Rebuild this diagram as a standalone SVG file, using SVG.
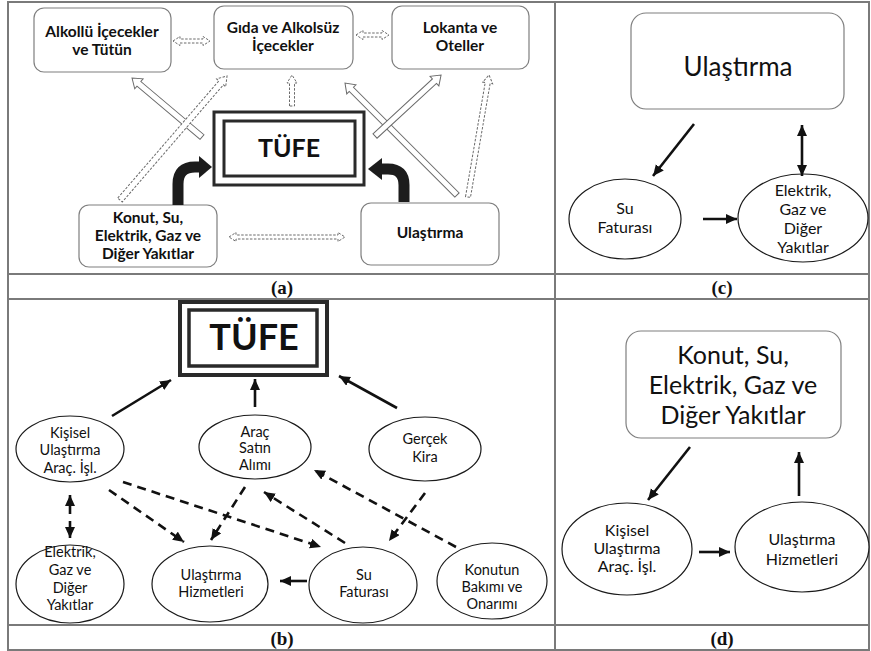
<svg xmlns="http://www.w3.org/2000/svg" width="871" height="651" viewBox="0 0 871 651">
<defs>
<style>
.grid{fill:none;stroke:#7a7a7a;stroke-width:2}
.rbox{fill:#fff;stroke:#7f7f7f;stroke-width:1.2}
.ell{fill:#fff;stroke:#1a1a1a;stroke-width:1.2}
.t{font-family:Lato,"Open Sans","DejaVu Sans",sans-serif;fill:#111;text-anchor:middle}
.tb{font-weight:bold;font-size:15.5px}
.ts{font-size:14.5px}
.tm{font-size:16px}
.tl{font-size:26px}
.tl2{font-size:25px}
.cap{font-family:"Liberation Serif","Times New Roman",serif;font-weight:bold;font-size:19px;fill:#111;text-anchor:middle}
.hol{fill:#fff;stroke:#6a6a6a;stroke-width:1}
.hold{fill:#fff;stroke:#6a6a6a;stroke-width:1;stroke-dasharray:2.5,1.5}
.blk{fill:none;stroke:#1c1c1c;stroke-width:11}
.blkh{fill:#1c1c1c}
.sol{fill:none;stroke:#111;stroke-width:2.6;marker-end:url(#ah)}
.das{fill:none;stroke:#111;stroke-width:2.6;stroke-dasharray:9,6;marker-end:url(#ah)}
.dbl{fill:none;stroke:#111;stroke-width:2.6;marker-start:url(#ahs);marker-end:url(#ah)}
</style>
<marker id="ah" markerUnits="userSpaceOnUse" markerWidth="12" markerHeight="11" refX="11" refY="5" orient="auto">
<path d="M0,0 L11,5 L0,10 z" fill="#111"/>
</marker>
<marker id="ahs" markerUnits="userSpaceOnUse" markerWidth="12" markerHeight="11" refX="0" refY="5" orient="auto">
<path d="M11,0 L0,5 L11,10 z" fill="#111"/>
</marker>
</defs>
<rect x="0" y="0" width="871" height="651" fill="#fff"/>

<g id="grid">
<rect class="grid" x="8" y="2" width="861" height="648"/>
<line class="grid" x1="555" y1="2" x2="555" y2="650"/>
<line class="grid" x1="8" y1="274" x2="869" y2="274"/>
<line class="grid" x1="8" y1="299" x2="869" y2="299"/>
<line class="grid" x1="8" y1="625" x2="869" y2="625"/>
<text class="cap" x="282" y="294">(a)</text>
<text class="cap" x="722" y="294">(c)</text>
<text class="cap" x="282" y="645">(b)</text>
<text class="cap" x="722" y="645">(d)</text>
</g>

<!-- Panel (a) nodes -->
<g id="a-alkollu">
<rect class="rbox" x="34" y="8" width="137" height="64" rx="10"/>
<text class="t tb" x="102" y="37">Alkollü İçecekler</text>
<text class="t tb" x="102" y="55">ve Tütün</text>
</g>
<g id="a-gida">
<rect class="rbox" x="214" y="6" width="139" height="63" rx="10"/>
<text class="t tb" x="283" y="33">Gıda ve Alkolsüz</text>
<text class="t tb" x="283" y="51">İçecekler</text>
</g>
<g id="a-lokanta">
<rect class="rbox" x="392" y="6" width="137" height="63" rx="10"/>
<text class="t tb" x="460" y="33">Lokanta ve</text>
<text class="t tb" x="460" y="51">Oteller</text>
</g>
<g id="a-tufe">
<rect x="214" y="112" width="150" height="73" fill="#fff" stroke="#2a2a2a" stroke-width="3"/>
<rect x="224" y="121" width="131" height="55" fill="#fff" stroke="#2a2a2a" stroke-width="3"/>
<text class="t" x="289" y="157" font-size="25" font-weight="bold">TÜFE</text>
</g>
<g id="a-konut">
<rect class="rbox" x="79" y="205" width="138" height="62" rx="10"/>
<text class="t tb" x="148" y="223">Konut, Su,</text>
<text class="t tb" x="148" y="241">Elektrik, Gaz ve</text>
<text class="t tb" x="148" y="259">Diğer Yakıtlar</text>
</g>
<g id="a-ulastirma">
<rect class="rbox" x="361" y="203" width="138" height="62" rx="10"/>
<text class="t tb" x="430" y="238">Ulaştırma</text>
</g>

<!-- Panel (b) nodes -->
<g id="b-tufe">
<rect x="180" y="302" width="147" height="73" fill="#fff" stroke="#2a2a2a" stroke-width="4"/>
<rect x="189" y="310" width="128" height="56" fill="#fff" stroke="#2a2a2a" stroke-width="3.5"/>
<text class="t" x="254" y="350" font-size="36" font-weight="bold">TÜFE</text>
</g>
<g id="b-kisisel">
<ellipse class="ell" cx="70" cy="449" rx="54" ry="33"/>
<text class="t ts" x="70" y="438">Kişisel</text>
<text class="t ts" x="70" y="455">Ulaştırma</text>
<text class="t ts" x="70" y="473">Araç. İşl.</text>
</g>
<g id="b-arac">
<ellipse class="ell" cx="255" cy="447" rx="56" ry="32"/>
<text class="t ts" x="255" y="437">Araç</text>
<text class="t ts" x="255" y="453">Satın</text>
<text class="t ts" x="255" y="470">Alımı</text>
</g>
<g id="b-gercek">
<ellipse class="ell" cx="425" cy="449" rx="56" ry="32"/>
<text class="t ts" x="425" y="444">Gerçek</text>
<text class="t ts" x="425" y="462">Kira</text>
</g>
<g id="b-elektrik">
<ellipse class="ell" cx="70" cy="584" rx="54" ry="39"/>
<text class="t ts" x="70" y="557">Elektrik,</text>
<text class="t ts" x="70" y="575">Gaz ve</text>
<text class="t ts" x="70" y="593">Diğer</text>
<text class="t ts" x="70" y="610">Yakıtlar</text>
</g>
<g id="b-ulasthiz">
<ellipse class="ell" cx="210" cy="584" rx="58" ry="38"/>
<text class="t ts" x="211" y="580">Ulaştırma</text>
<text class="t ts" x="211" y="597">Hizmetleri</text>
</g>
<g id="b-su">
<ellipse class="ell" cx="363" cy="585" rx="54" ry="38"/>
<text class="t ts" x="364" y="580">Su</text>
<text class="t ts" x="364" y="597">Faturası</text>
</g>
<g id="b-konutun">
<ellipse class="ell" cx="492" cy="581" rx="55" ry="38"/>
<text class="t ts" x="492" y="575">Konutun</text>
<text class="t ts" x="492" y="592">Bakımı ve</text>
<text class="t ts" x="492" y="609">Onarımı</text>
</g>

<!-- Panel (c) nodes -->
<g id="c-ulastirma">
<rect class="rbox" x="631" y="13" width="213" height="96" rx="15"/>
<text class="t tl" x="738" y="76">Ulaştırma</text>
</g>
<g id="c-su">
<ellipse class="ell" cx="625" cy="219" rx="56" ry="40"/>
<text class="t tm" x="625" y="214">Su</text>
<text class="t tm" x="625" y="233">Faturası</text>
</g>
<g id="c-elektrik">
<ellipse class="ell" cx="803" cy="218" rx="65" ry="44"/>
<text class="t tm" x="803" y="196">Elektrik,</text>
<text class="t tm" x="803" y="215">Gaz ve</text>
<text class="t tm" x="803" y="234">Diğer</text>
<text class="t tm" x="803" y="253">Yakıtlar</text>
</g>

<!-- Panel (d) nodes -->
<g id="d-konut">
<rect class="rbox" x="626" y="331" width="215" height="107" rx="15"/>
<text class="t tl2" x="733" y="364">Konut, Su,</text>
<text class="t tl2" x="733" y="394">Elektrik, Gaz ve</text>
<text class="t tl2" x="733" y="424">Diğer Yakıtlar</text>
</g>
<g id="d-kisisel">
<ellipse class="ell" cx="627" cy="549" rx="65" ry="46"/>
<text class="t tm" x="627" y="536">Kişisel</text>
<text class="t tm" x="627" y="554">Ulaştırma</text>
<text class="t tm" x="627" y="572">Araç. İşl.</text>
</g>
<g id="d-ulasthiz">
<ellipse class="ell" cx="802" cy="547" rx="67" ry="45"/>
<text class="t tm" x="802" y="545">Ulaştırma</text>
<text class="t tm" x="802" y="565">Hizmetleri</text>
</g>

<g id="connectors">
<!-- panel (a) hollow arrows -->
<polygon class="hold" transform="translate(173,41)" points="0,0 7,-4.5 7,-2 30,-2 30,-4.5 37,0 30,4.5 30,2 7,2 7,4.5"/>
<polygon class="hold" transform="translate(356,35)" points="0,0 7,-4.5 7,-2 26,-2 26,-4.5 33,0 26,4.5 26,2 7,2 7,4.5"/>
<polygon class="hold" transform="translate(229,237)" points="0,0 7,-4.5 7,-2 109,-2 109,-4.5 116,0 109,4.5 109,2 7,2 7,4.5"/>
<polygon class="hold" transform="translate(292,106) rotate(-90)" points="0,-2.5 23,-2.5 23,-5 31,0 23,5 23,2.5 0,2.5"/>
<polygon class="hol" transform="translate(202,137) rotate(-139.87)" points="0,-3 82.5,-3 82.5,-6.5 91.5,0 82.5,6.5 82.5,3 0,3"/>
<polygon class="hold" transform="translate(120,200) rotate(-49.2)" points="0,-3 154.8,-3 154.8,-6 163.8,0 154.8,6 154.8,3 0,3"/>
<polygon class="hol" transform="translate(457,195) rotate(-135)" points="0,-3 149.4,-3 149.4,-6.5 158.4,0 149.4,6.5 149.4,3 0,3"/>
<polygon class="hol" transform="translate(375,136) rotate(-42.7)" points="0,-3 80.9,-3 80.9,-6.5 89.9,0 80.9,6.5 80.9,3 0,3"/>
<polygon class="hold" transform="translate(468,197) rotate(-80.2)" points="0,-2.5 115.8,-2.5 115.8,-5 123.8,0 115.8,5 115.8,2.5 0,2.5"/>
<!-- panel (a) black bent arrows -->
<path class="blk" d="M178,205 V184 Q178,167 195,167 H201"/>
<polygon class="blkh" points="199,156 212,167 199,178"/>
<path class="blk" d="M404,202 V185 Q404,169 388,169 H381"/>
<polygon class="blkh" points="382,158 368,169 382,180"/>
<!-- panel (b) -->
<line class="sol" x1="112" y1="416" x2="171" y2="380"/>
<line class="sol" x1="255" y1="407" x2="255" y2="379"/>
<line class="sol" x1="397" y1="408" x2="339" y2="376"/>
<line class="sol" x1="307" y1="581" x2="280" y2="581"/>
<line class="sol" x1="70" y1="514" x2="70" y2="495"/>
<line class="sol" x1="70" y1="521" x2="70" y2="538"/>
<line class="das" x1="109" y1="490" x2="184" y2="542"/>
<line class="das" x1="123" y1="482" x2="321" y2="547"/>
<line class="das" x1="245" y1="487" x2="211" y2="540"/>
<line class="das" x1="345" y1="543" x2="264" y2="492"/>
<line class="das" x1="425" y1="493" x2="389" y2="541"/>
<line class="das" x1="456" y1="547" x2="314" y2="470"/>
<!-- panel (c) -->
<line class="sol" x1="694" y1="124" x2="653" y2="176"/>
<line class="dbl" x1="802" y1="125" x2="802" y2="176"/>
<line class="sol" x1="703" y1="219" x2="737" y2="219"/>
<!-- panel (d) -->
<line class="sol" x1="690" y1="447" x2="648" y2="500"/>
<line class="sol" x1="799" y1="496" x2="799" y2="452"/>
<line class="sol" x1="699" y1="552" x2="730" y2="552"/>
</g>
</svg>
